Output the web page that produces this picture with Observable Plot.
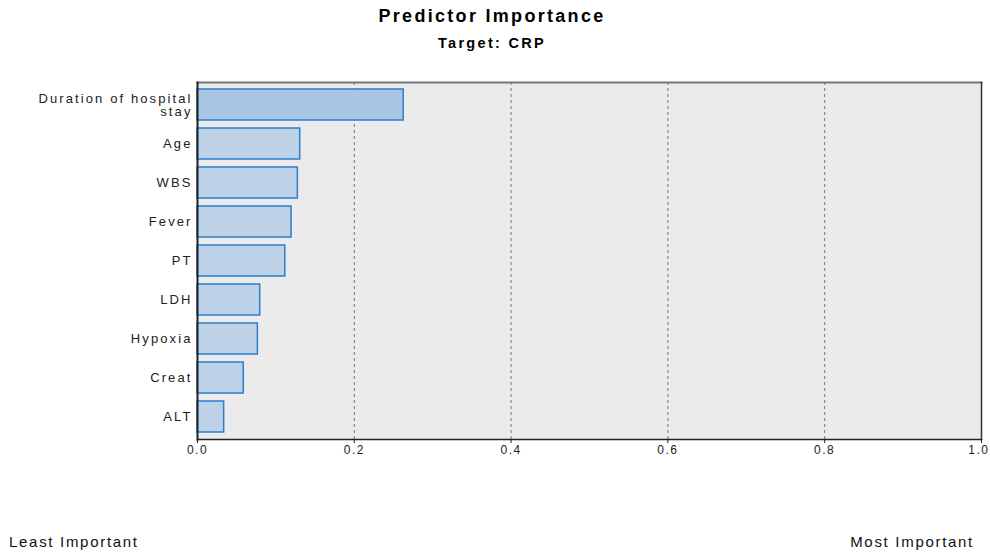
<!DOCTYPE html>
<html>
<head>
<meta charset="utf-8">
<script src="https://cdn.jsdelivr.net/npm/d3@7"></script>
<script src="https://cdn.jsdelivr.net/npm/@observablehq/plot@0.6"></script>
<style>
  html, body { margin: 0; padding: 0; background: #fff; }
  #wrap { position: relative; width: 990px; height: 554px; overflow: hidden; font-family: "Liberation Sans", Arial, sans-serif; }
  .title { position: absolute; left: 0; width: 984px; text-align: center; font-weight: bold; color: #000; font-family: "Liberation Sans", Arial, sans-serif; white-space: nowrap; }
  #t1 { top: 6px; font-size: 18px; letter-spacing: 2.3px; }
  #t2 { top: 35px; font-size: 14.5px; letter-spacing: 2.3px; }
  #chart { position: absolute; left: 0; top: 60px; }
  .foot { position: absolute; top: 533px; font-size: 15px; letter-spacing: 1.7px; font-family: "Liberation Sans", Arial, sans-serif; color: #111; white-space: nowrap; }
  #chart svg g[aria-label="y-axis tick label"] { letter-spacing: 2.1px; }
  #chart svg g[aria-label="x-axis tick label"] { letter-spacing: 1.5px; }
</style>
</head>
<body>
<div id="wrap">
  <div class="title" id="t1">Predictor Importance</div>
  <div class="title" id="t2">Target: CRP</div>
  <div id="chart"></div>
  <div class="foot" style="left:9px">Least Important</div>
  <div class="foot" style="right:16px">Most Important</div>
</div>
<script>
const predictors = ["Duration of hospital\nstay", "Age", "WBS", "Fever", "PT", "LDH", "Hypoxia", "Creat", "ALT"];
const importance = [0.263, 0.131, 0.128, 0.120, 0.112, 0.080, 0.077, 0.059, 0.034];
const xTicks = [0, 0.2, 0.4, 0.6, 0.8, 1.0];
const gridTicks = [0.2, 0.4, 0.6, 0.8];

const data = predictors.map((p, i) => ({predictor: p, value: importance[i], top: i === 0}));
const fmt = d3.format(".1f");
const lastTick = xTicks[xTicks.length - 1];

const chart = Plot.plot({
  width: 990,
  height: 410,
  marginTop: 22,
  marginBottom: 31,
  marginLeft: 197,
  marginRight: 9,
  style: {fontFamily: "'Liberation Sans', Arial, sans-serif", fontSize: "13px", color: "#222", background: "transparent"},
  x: {domain: [0, 1], ticks: xTicks, tickFormat: fmt, label: null},
  y: {domain: predictors, label: null, paddingInner: 0.2, paddingOuter: 0.1},
  marks: [
    Plot.frame({fill: "#ebebeb", stroke: null}),
    Plot.ruleX(gridTicks, {stroke: "#777", strokeDasharray: "3,3", strokeWidth: 1, strokeOpacity: 1}),
    Plot.frame({anchor: "top", stroke: "#777", strokeWidth: 2}),
    Plot.frame({anchor: "right", stroke: "#333", strokeWidth: 1.5}),
    Plot.barX(data, {
      x: "value",
      y: "predictor",
      fill: d => d.top ? "#a9c6e4" : "#bdd1e7",
      stroke: "#2d7dd2",
      strokeWidth: 1.5
    }),
    Plot.axisY({tickSize: 0, tickPadding: 5, lineHeight: 1.02, fill: "#222", fontSize: 13}),
    Plot.axisX(xTicks, {tickFormat: d => d === lastTick ? "" : fmt(d), tickSize: 4, tickPadding: 2, fontSize: 12}),
    Plot.axisX([lastTick], {tickFormat: fmt, tickSize: 0, tickPadding: 6, fontSize: 12, textAnchor: "end", dx: 8}),
    Plot.frame({anchor: "left", stroke: "#222", strokeWidth: 2}),
    Plot.frame({anchor: "bottom", stroke: "#222", strokeWidth: 1.5})
  ]
});
document.getElementById("chart").appendChild(chart);
</script>
</body>
</html>
